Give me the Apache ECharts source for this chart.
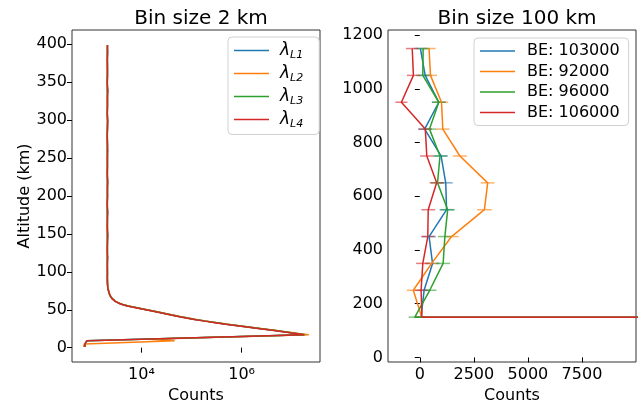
<!DOCTYPE html>
<html>
<head>
<meta charset="utf-8">
<script src="https://cdn.jsdelivr.net/npm/echarts@6/dist/echarts.min.js"></script>
<style>
  html, body { margin: 0; padding: 0; background: #fff; }
  #chart { width: 641px; height: 404px; }
</style>
</head>
<body>
<div id="chart"></div>
<script>
/*
 * 左图: 2 km 分箱, 右图: 100 km 分箱
 */

// ---- 左图数据 (Bin size 2 km) ----
var altitude2km = [1, 3, 5, 7, 9, 11, 13, 15, 17, 19, 21, 23, 25, 27, 29, 31, 33, 35, 37, 39,
  41, 43, 45, 47, 49, 51, 53, 55, 57, 59, 61, 63, 65, 67, 69, 71, 73, 75, 77, 79,
  81, 83, 85, 87, 89, 91, 93, 95, 97, 99,
  109, 119, 129, 139, 149, 159, 169, 179, 189, 199, 209, 219, 229, 239, 249,
  259, 269, 279, 289, 299, 309, 319, 329, 339, 349, 359, 369, 379, 389, 399];

var countsL1 = [720, 705, 735, 770, 830, 9800, 125000, 1600000, 19000000, 11800000,
  7100000, 4350000, 2480000, 1470000, 860000, 505000, 315000, 193000, 119000, 82000,
  57000, 40500, 29300, 21200, 15000, 10600, 7550, 5350, 4180, 3460,
  3010, 2750, 2570, 2450, 2340, 2290, 2240, 2190, 2150, 2130,
  2110, 2095, 2100, 2080, 2090, 2075, 2085, 2070, 2090, 2080,
  2070, 2095, 2060, 2085, 2110, 2065, 2080, 2100, 2055, 2090, 2075, 2105, 2060, 2085, 2070,
  2095, 2080, 2050, 2090, 2100, 2065, 2085, 2075, 2110, 2060, 2090, 2080, 2070, 2095, 2085];

var countsL2 = [700, 690, 720, 750, 46000, 15000, 140000, 1800000, 22000000, 12600000,
  7500000, 4600000, 2620000, 1550000, 900000, 530000, 330000, 203000, 125000, 86000,
  60000, 42500, 30500, 22000, 15600, 11000, 7800, 5500, 4280, 3520,
  3060, 2790, 2600, 2480, 2370, 2310, 2260, 2210, 2170, 2140,
  2120, 2100, 2085, 2095, 2070, 2090, 2060, 2080, 2065, 2085,
  2055, 2080, 2045, 2070, 2090, 2040, 2065, 2085, 2050, 2075, 2060, 2095, 2045, 2070, 2055,
  2080, 2065, 2035, 2075, 2085, 2050, 2070, 2060, 2090, 2045, 2075, 2065, 2055, 2080, 2070];

var countsL3 = [760, 715, 740, 775, 820, 9500, 122000, 1550000, 18000000, 11500000,
  7000000, 4300000, 2450000, 1450000, 850000, 500000, 312000, 191000, 118000, 81000,
  56500, 40000, 29000, 21000, 14900, 10500, 7500, 5320, 4160, 3450,
  3000, 2740, 2560, 2440, 2335, 2280, 2235, 2185, 2145, 2125,
  2105, 2090, 2080, 2095, 2075, 2085, 2070, 2090, 2080, 2075,
  2085, 2065, 2100, 2075, 2060, 2095, 2080, 2055, 2090, 2070, 2100, 2065, 2085, 2075, 2105,
  2060, 2090, 2080, 2065, 2095, 2075, 2085, 2100, 2060, 2080, 2070, 2095, 2085, 2065, 2080];

var countsL4 = [730, 710, 745, 780, 800, 10500, 118000, 1500000, 17500000, 10800000,
  6600000, 4050000, 2320000, 1380000, 810000, 475000, 296000, 181000, 112000, 77000,
  54000, 38500, 28000, 20300, 14400, 10200, 7300, 5200, 4100, 3420,
  2980, 2730, 2550, 2435, 2330, 2280, 2235, 2190, 2150, 2130,
  2110, 2100, 2090, 2105, 2085, 2100, 2080, 2095, 2085, 2100,
  2090, 2110, 2075, 2100, 2120, 2080, 2095, 2115, 2070, 2105, 2090, 2120, 2080, 2100, 2085,
  2110, 2095, 2070, 2105, 2115, 2080, 2100, 2090, 2125, 2075, 2105, 2095, 2085, 2110, 2100];

var namesLeft = ['L1', 'L2', 'L3', 'L4'];
var ticksLeftX = [1e4, 1e6];
var ticksLeftY = [0, 50, 100, 150, 200, 250, 300, 350, 400];

// ---- 右图数据 (Bin size 100 km) ----
var altitude100km = [50, 150, 250, 350, 450, 550, 650, 750, 850, 950, 1050, 1150];

var countsBE103000 = [46000000, 60, 200, 590, 430, 1240, 1200, 985, 225, 880, 250, 30];
var countsBE92000 = [52000000, 90, -300, 550, 1470, 2990, 3140, 1855, 1065, 1005, 495, 430];
var countsBE96000 = [48000000, -230, 460, 1080, 1160, 1290, 820, 935, 450, 880, 140, 155];
var countsBE106000 = [45000000, 100, 60, 140, 370, 390, 780, 325, 255, -850, -295, -350];

var errBE103000 = [6800, 300, 310, 320, 315, 325, 320, 315, 310, 320, 310, 305];
var errBE92000 = [7200, 300, 300, 320, 330, 340, 320, 320, 310, 310, 305, 300];
var errBE96000 = [6900, 290, 310, 320, 320, 330, 315, 320, 310, 320, 305, 300];
var errBE106000 = [6700, 290, 300, 310, 310, 320, 320, 310, 300, 280, 300, 290];

var namesRight = ['BE: 103000', 'BE: 92000', 'BE: 96000', 'BE: 106000'];
var ticksRightX = [0, 2500, 5000, 7500];
var ticksRightY = [0, 200, 400, 600, 800, 1000, 1200];

var colors = ['#1f77b4', '#ff7f0e', '#2ca02c', '#d62728'];
var FONT = 'DejaVu Sans';

/*
 * 把 x 数组和高度数组拼成 [x, y] 点
 */
function toPoints(xs, ys) {
  return xs.map(function(x, i) {
    return [x, ys[i]];
  });
}

function lineSeries(name, points, axisIndex, color) {
  return {
    name: name,
    type: 'line',
    xAxisIndex: axisIndex,
    yAxisIndex: axisIndex,
    data: points,
    showSymbol: false,
    symbol: 'none',
    clip: true,
    color: color,
    lineStyle: { color: color, width: 1.5 },
    animation: false
  };
}

// 水平误差棒 (xerr)
function errorBarSeries(xs, errs, ys, color) {
  return {
    type: 'custom',
    xAxisIndex: 1,
    yAxisIndex: 1,
    clip: true,
    silent: true,
    data: xs.map(function(x, i) {
      return [x, ys[i], errs[i]];
    }),
    encode: { x: 0, y: 1 },
    renderItem: function(params, api) {
      var a = api.coord([api.value(0) - api.value(2), api.value(1)]);
      var b = api.coord([api.value(0) + api.value(2), api.value(1)]);
      return {
        type: 'line',
        shape: { x1: a[0], y1: a[1], x2: b[0], y2: b[1] },
        style: { stroke: color, lineWidth: 1.5, opacity: 0.6 }
      };
    },
    animation: false
  };
}

function axisCommon(ticks) {
  return {
    axisLine: { show: false },
    axisTick: { show: true, customValues: ticks, length: 5, lineStyle: { color: '#000', width: 1 } },
    axisLabel: {
      customValues: ticks, color: '#000', fontSize: 16, fontFamily: FONT, margin: 5,
      formatter: function(v) { return String(v); }
    },
    splitLine: { show: false }
  };
}

function sup(n) {
  var map = { '0': '\u2070', '1': '\u00b9', '2': '\u00b2', '3': '\u00b3', '4': '\u2074',
    '5': '\u2075', '6': '\u2076', '7': '\u2077', '8': '\u2078', '9': '\u2079' };
  return String(n).split('').map(function(c) { return map[c]; }).join('');
}

var xLeft = Object.assign(axisCommon(ticksLeftX), {
  type: 'log', logBase: 10, gridIndex: 0,
  min: 409, max: 36800000,
  name: 'Counts', nameLocation: 'middle', nameGap: 26,
  nameTextStyle: { color: '#000', fontSize: 16, fontFamily: FONT }
});
xLeft.axisLabel.formatter = function(v) {
  return '10' + sup(Math.round(Math.log(v) / Math.LN10));
};

var yLeft = Object.assign(axisCommon(ticksLeftY), {
  type: 'value', gridIndex: 0, min: -18.9, max: 418.9,
  name: 'Altitude (km)', nameLocation: 'middle', nameGap: 39,
  nameTextStyle: { color: '#000', fontSize: 16, fontFamily: FONT }
});

var xRight = Object.assign(axisCommon(ticksRightX), {
  type: 'value', gridIndex: 1, min: -1470, max: 10000,
  name: 'Counts', nameLocation: 'middle', nameGap: 26,
  nameTextStyle: { color: '#000', fontSize: 16, fontFamily: FONT }
});

var yRight = Object.assign(axisCommon(ticksRightY), {
  type: 'value', gridIndex: 1, min: -17, max: 1219
});

var legendBox = {
  orient: 'vertical',
  itemWidth: 35,
  itemHeight: 20,
  itemGap: 4.5,
  icon: 'path://M0,0H70V3H0Z',
  backgroundColor: 'rgba(255,255,255,0.8)',
  borderColor: '#d0d0d0',
  borderWidth: 1,
  borderRadius: 4
};

var leftSeriesCounts = [countsL1, countsL2, countsL3, countsL4];
var rightSeriesCounts = [countsBE103000, countsBE92000, countsBE96000, countsBE106000];
var rightSeriesErr = [errBE103000, errBE92000, errBE96000, errBE106000];

var series = [];
leftSeriesCounts.forEach(function(c, i) {
  series.push(lineSeries(namesLeft[i], toPoints(c, altitude2km), 0, colors[i]));
});
rightSeriesCounts.forEach(function(c, i) {
  series.push(lineSeries(namesRight[i], toPoints(c, altitude100km), 1, colors[i]));
  series.push(errorBarSeries(c, rightSeriesErr[i], altitude100km, colors[i]));
});

var gridStyle = {
  top: 30, width: 248, height: 332, show: true,
  borderColor: '#333', borderWidth: 1, backgroundColor: 'transparent',
  containLabel: false, outerBoundsMode: 'none'
};

var options = {
  backgroundColor: '#fff',
  animation: false,
  textStyle: { fontFamily: FONT },
  title: [
    { text: 'Bin size 2 km', left: 196, top: 4, textAlign: 'center',
      textStyle: { fontSize: 20, fontWeight: 'normal', color: '#000', fontFamily: FONT } },
    { text: 'Bin size 100 km', left: 512, top: 4, textAlign: 'center',
      textStyle: { fontSize: 20, fontWeight: 'normal', color: '#000', fontFamily: FONT } }
  ],
  grid: [
    Object.assign({ left: 72 }, gridStyle),
    Object.assign({ left: 388 }, gridStyle)
  ],
  legend: [
    Object.assign({}, legendBox, {
      data: namesLeft,
      left: 228, top: 37,
      padding: [5, 16, 5, 6],
      formatter: function(name) {
        return '{g|\u03bb}{s|' + name + '}';
      },
      textStyle: {
        color: '#000', fontFamily: FONT, padding: [0, 0, 0, 6],
        rich: {
          g: { fontSize: 17, fontStyle: 'italic', fontFamily: FONT, color: '#000', lineHeight: 20, verticalAlign: 'middle' },
          s: { fontSize: 11, fontStyle: 'italic', fontFamily: FONT, color: '#000', lineHeight: 20, verticalAlign: 'bottom' }
        }
      }
    }),
    Object.assign({}, legendBox, {
      data: namesRight,
      left: 474, top: 38,
      padding: [5, 9, 5, 6],
      textStyle: { color: '#000', fontSize: 16, fontFamily: FONT, padding: [0, 0, 0, 7] }
    })
  ],
  xAxis: [xLeft, xRight],
  yAxis: [yLeft, yRight],
  series: series
};

function initECharts(el, opts) {
  // eslint-disable-next-line
  var myEchart = echarts.init(el, null, { renderer: 'canvas' });
  myEchart.setOption(opts);
  return myEchart;
}

initECharts(document.getElementById('chart'), options);
</script>
</body>
</html>
